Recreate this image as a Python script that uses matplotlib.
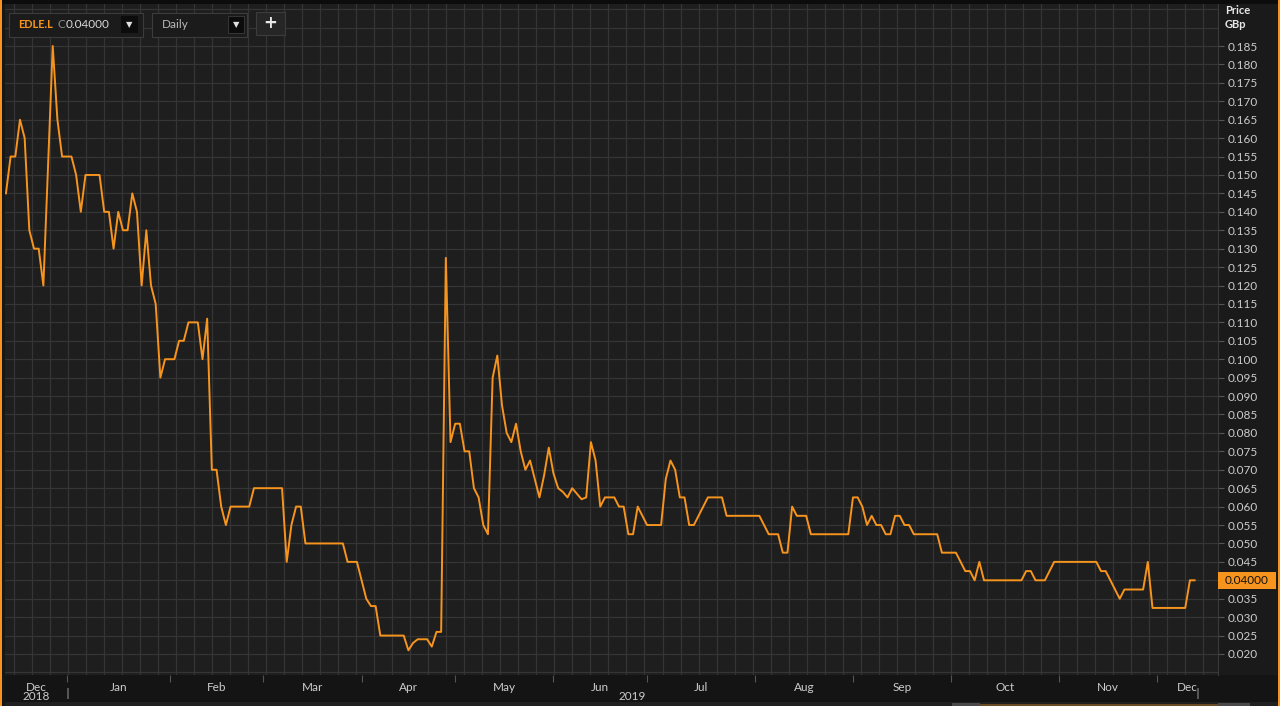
import numpy as np
import matplotlib.pyplot as plt
from matplotlib.patches import Rectangle
from matplotlib.transforms import blended_transform_factory

plt.rcParams['font.family'] = ['Lato', 'DejaVu Sans']

W, H = 1280, 706

# x axis = trading days since 11 Dec 2018 (LSE calendar)
start = '2018-12-11'
holidays = ['2018-12-25', '2018-12-26', '2019-01-01', '2019-04-19',
            '2019-04-22', '2019-05-06', '2019-05-27', '2019-08-26']

day = [0, 1, 2, 3, 4, 5, 6, 7, 8, 10, 11, 12, 14, 15, 16, 17, 20, 21, 22, 23,
       24, 25, 26, 27, 28, 29, 30, 31, 32, 33, 34, 36, 37, 38, 39, 41, 42, 43, 44, 45,
       46, 47, 48, 52, 53, 59, 60, 61, 62, 63, 64, 72, 73, 75, 76, 77, 78, 79, 80, 85,
       86, 87, 88, 90, 91, 92, 93, 94, 95, 96, 97, 98, 99, 100, 101, 102, 103, 104, 105, 106,
       107, 108, 109, 110, 111, 112, 113, 114, 115, 116, 117, 118, 119, 120, 121, 122, 123, 124, 125, 126,
       127, 128, 130, 131, 132, 133, 134, 135, 137, 140, 141, 142, 143, 144, 145, 146, 147, 150, 153, 154,
       161, 163, 165, 166, 167, 168, 169, 171, 172, 180, 181, 182, 183, 184, 185, 186, 187, 188, 189, 190,
       191, 192, 193, 194, 199, 200, 203, 205, 206, 207, 208, 209, 217, 218, 219, 220, 222, 224, 233, 234,
       235, 237, 238, 239, 243, 244, 245, 252, 253, 254]
price = [0.145, 0.155, 0.155, 0.165, 0.160, 0.135, 0.130, 0.130, 0.120, 0.185, 0.165, 0.155, 0.155, 0.150, 0.140, 0.150, 0.150, 0.140, 0.140, 0.130,
         0.140, 0.135, 0.135, 0.145, 0.140, 0.120, 0.135, 0.120, 0.115, 0.095, 0.100, 0.100, 0.105, 0.105, 0.110, 0.110, 0.100, 0.111, 0.070, 0.070,
         0.060, 0.055, 0.060, 0.060, 0.065, 0.065, 0.045, 0.055, 0.060, 0.060, 0.050, 0.050, 0.045, 0.045, 0.040, 0.035, 0.033, 0.033, 0.025, 0.025,
         0.021, 0.023, 0.024, 0.024, 0.022, 0.026, 0.026, 0.1275, 0.0775, 0.0825, 0.0825, 0.075, 0.075, 0.065, 0.0625, 0.055, 0.0525, 0.095, 0.101, 0.0875,
         0.080, 0.0775, 0.0825, 0.075, 0.070, 0.0725, 0.0675, 0.0625, 0.0685, 0.076, 0.069, 0.065, 0.064, 0.0625, 0.065, 0.0635, 0.062, 0.0625, 0.0775, 0.0725,
         0.060, 0.0625, 0.0625, 0.060, 0.060, 0.0525, 0.0525, 0.060, 0.055, 0.055, 0.0675, 0.0725, 0.070, 0.0625, 0.0625, 0.055, 0.055, 0.0625, 0.0625, 0.0575,
         0.0575, 0.0525, 0.0525, 0.0475, 0.0475, 0.060, 0.0575, 0.0575, 0.0525, 0.0525, 0.0625, 0.0625, 0.060, 0.055, 0.0575, 0.055, 0.055, 0.0525, 0.0525, 0.0575,
         0.0575, 0.055, 0.055, 0.0525, 0.0525, 0.0475, 0.0475, 0.0425, 0.0425, 0.040, 0.045, 0.040, 0.040, 0.0425, 0.0425, 0.040, 0.040, 0.045, 0.045, 0.0425,
         0.0425, 0.0375, 0.035, 0.0375, 0.0375, 0.045, 0.0325, 0.0325, 0.040, 0.040]

months = ['Dec', 'Jan', 'Feb', 'Mar', 'Apr', 'May', 'Jun', 'Jul', 'Aug', 'Sep', 'Oct', 'Nov', 'Dec']
month_starts = ['2019-01-01', '2019-02-01', '2019-03-01', '2019-04-01', '2019-05-01', '2019-06-01',
                '2019-07-01', '2019-08-01', '2019-09-01', '2019-10-01', '2019-11-01', '2019-12-01']
yticks = np.round(np.arange(0.020, 0.1851, 0.005), 3)
last = 0.040
ticker = 'EDLE.L'
interval = 'Daily'

ORANGE = '#f7941d'
TXT = '#cccccc'
GRID = '#353535'
FS = 8.5

fig = plt.figure(figsize=(W / 100, H / 100), dpi=100, facecolor='#161616')


def box(x0, y0, x1, y1, z=-1, **kw):
    # rectangle in pixel coords of the screenshot
    fig.patches.append(Rectangle((x0 / W, 1 - y1 / H), (x1 - x0) / W, (y1 - y0) / H,
                                 transform=fig.transFigure, zorder=z, **kw))


# frame pieces (behind the axes)
box(0, 0, W, 4, fc='#0c0c0c', ec='none')
box(1218, 4, 1278, 675, fc='#1a1a1a', ec='none')
box(5, 675, 1278, 702, fc='#141414', ec='none')
box(5, 702, 1278, 706, fc='#202020', ec='none')
box(952, 703, 980, 706, fc='#4a4a4a', ec='none')
box(980, 704, 1218, 706, fc='#6b4a26', ec='none')
box(1218, 703, 1250, 706, fc='#4a4a4a', ec='none')
box(0, 0, 2, H, fc=ORANGE, ec='none')
box(1278, 0, 1280, H, fc=ORANGE, ec='none')

ax = fig.add_axes([5 / W, (H - 675) / H, (1218 - 5) / W, (675 - 4) / H], facecolor='#1e1e1e')
ax.set_xlim(-0.2, 259)
ax.set_ylim(0.0143, 0.1964)

for g in np.arange(0.015, 0.196, 0.005):
    ax.axhline(g, color=GRID, lw=0.9, zorder=1)
for g in np.arange(1.7, 259, 3.85):
    ax.axvline(g, color=GRID, lw=0.9, zorder=1)

ax.plot(day, price, color=ORANGE, lw=1.4, zorder=3)

for s in ['top', 'left', 'bottom']:
    ax.spines[s].set_visible(False)
ax.spines['right'].set_color('#3a3a3a')

# y axis on the right
ax.yaxis.tick_right()
ax.set_yticks(yticks)
ax.set_yticklabels(['' if abs(v - last) < 1e-9 else f'{v:.3f}' for v in yticks])
ax.tick_params(axis='y', direction='out', length=4, color='#555555', labelcolor=TXT,
               labelsize=FS, pad=3)

# months: boundaries as ticks, names centred in between
bounds = np.busday_count(start, month_starts, holidays=holidays)
edges = np.concatenate([[ax.get_xlim()[0]], bounds, [ax.get_xlim()[1]]])
mids = (edges[:-1] + edges[1:]) / 2
ax.set_xticks(bounds)
ax.set_xticklabels([])
ax.set_xticks(mids, minor=True)
ax.set_xticklabels(months, minor=True)
ax.tick_params(axis='x', which='major', direction='out', length=5, color='#555555')
ax.tick_params(axis='x', which='minor', length=0, labelcolor=TXT, labelsize=FS, pad=5)

bt = blended_transform_factory(ax.transData, fig.transFigure)
ax.text(mids[0], 1 - 697 / H, '2018', transform=bt, ha='center', va='center', color=TXT, fontsize=FS)
ax.text(133.8, 1 - 697 / H, '2019', transform=bt, ha='center', va='center', color=TXT, fontsize=FS)
box(67, 688, 69, 699, z=2, fc='#555555', ec='none')
box(1197, 688, 1199, 699, z=2, fc='#555555', ec='none')

# last price marker
lt = blended_transform_factory(fig.transFigure, ax.transData)
ax.add_patch(Rectangle((1218 / W, last - 0.0023), 58 / W, 0.0046, transform=lt,
                       fc=ORANGE, ec='none', clip_on=False, zorder=5))
ax.text(1225 / W, last, f'{last:.5f}', transform=lt, ha='left', va='center',
        color='#111111', fontsize=FS, zorder=6)

fig.text(1225 / W, 1 - 10 / H, 'Price', color='#e8e8e8', fontsize=8, fontweight='bold', va='center')
fig.text(1225 / W, 1 - 25 / H, 'GBp', color='#e8e8e8', fontsize=8, fontweight='bold', va='center')

# toolbar widgets (above the axes)
box(9, 13, 143, 37, z=2, fc='#1b1b1b', ec='#3c3c3c', lw=0.8)
box(121, 16, 138, 33, z=2, fc='#0c0c0c', ec='none')
fig.text(18 / W, 1 - 25 / H, ticker, color=ORANGE, fontsize=7.8, fontweight='bold', va='center')
fig.text(57.5 / W, 1 - 25 / H, 'C', color='#8a8a8a', fontsize=FS, va='center')
fig.text(66 / W, 1 - 25 / H, f'{last:.5f}', color='#d8d8d8', fontsize=FS, va='center')
fig.text(129.5 / W, 1 - 25 / H, '▼', color='#e0e0e0', fontsize=6, ha='center', va='center',
         family='DejaVu Sans')
box(152, 13, 247, 37, z=2, fc='#1b1b1b', ec='#3c3c3c', lw=0.8)
box(228, 16, 244, 33, z=2, fc='#0c0c0c', ec='#3c3c3c', lw=0.6)
fig.text(162 / W, 1 - 24 / H, interval, color='#b8b8b8', fontsize=FS, va='center')
fig.text(236 / W, 1 - 25 / H, '▼', color='#e0e0e0', fontsize=6, ha='center', va='center',
         family='DejaVu Sans')
box(256, 12, 285, 35, z=2, fc='#262626', ec='#3c3c3c', lw=0.8)
fig.text(270.5 / W, 1 - 23 / H, '+', color='#e8e8e8', fontsize=12, fontweight='bold',
         ha='center', va='center', family='DejaVu Sans')

fig.savefig('out.png', dpi=100, facecolor=fig.get_facecolor())
